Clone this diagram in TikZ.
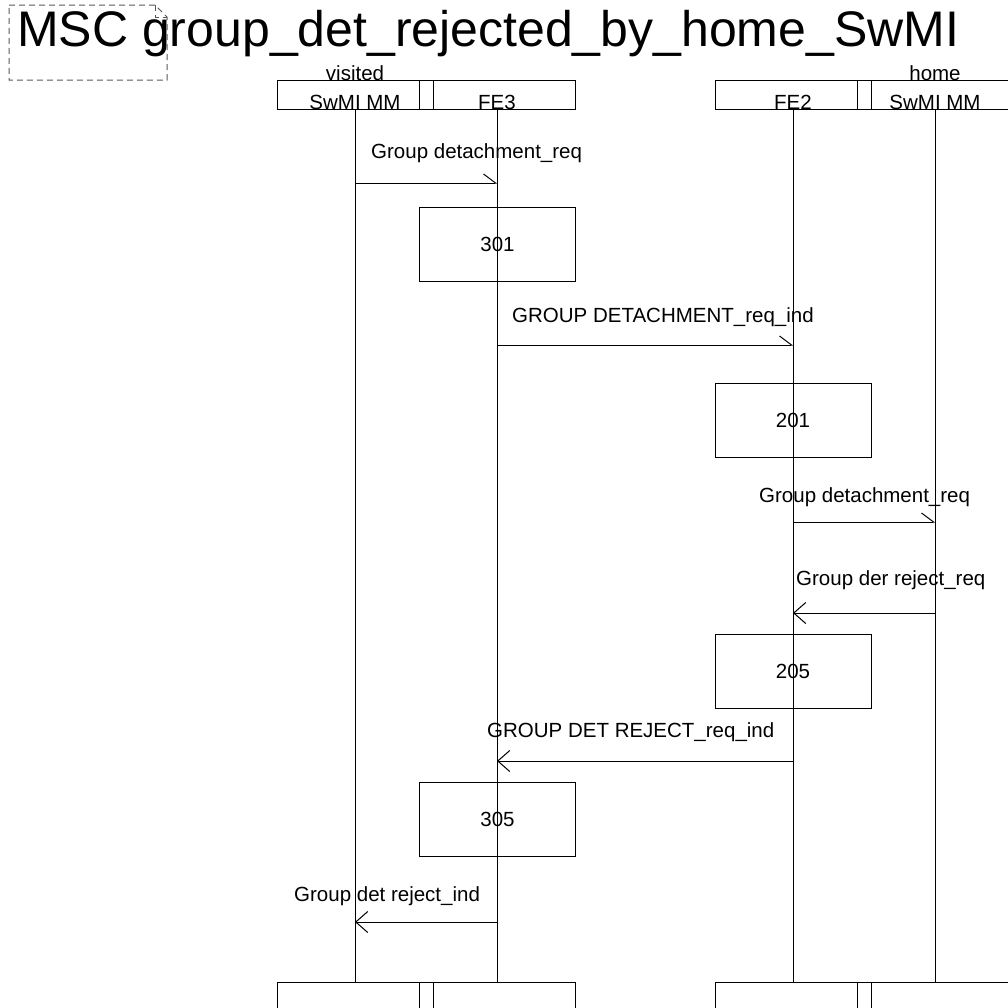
\documentclass[tikz,border=0pt]{standalone}
\usepackage{fontspec}
\setmainfont{Liberation Sans}
\usetikzlibrary{arrows.meta}
\tikzset{
  ln/.style={line width=1pt, draw=black},
  headbox/.style={ln, rectangle, minimum width=156pt, minimum height=29pt, inner sep=0pt},
  actbox/.style={ln, rectangle, minimum width=156pt, minimum height=74pt, inner sep=0pt, font=\fontsize{20.5}{24}\selectfont},
  lbl/.style={inner sep=0pt, font=\fontsize{20.5}{24}\selectfont},
  msgR/.style={ln, -{Straight Barb[harpoon, length=12pt, width=18pt, line width=1pt]}},
  msgL/.style={ln, -{Straight Barb[length=12pt, width=21pt, line width=1pt]}},
  framebox/.style={line width=1pt, draw=black!65, dash pattern=on 6pt off 4pt},
}
\begin{document}
\begin{tikzpicture}[x=1pt, y=-1pt]
\useasboundingbox (0,0) rectangle (1008,1007);
% title and frame
\node[inner sep=0pt, anchor=base west, font=\fontsize{50}{60}\selectfont] (title) at (17,46) {MSC group\_det\_rejected\_by\_home\_SwMI};
\draw[framebox] (9,5) -- (155,5) -- (167,17) -- (167,80) -- (9,80) -- cycle;
\draw[framebox] (155,5) -- (155,17) -- (167,17);
% instance heads
\node[headbox] (h1) at (355,94.5) {};
\node[headbox] (h2) at (497,94.5) {};
\node[headbox] (h3) at (793,94.5) {};
\node[headbox] (h4) at (935,94.5) {};
\node[lbl, anchor=base] (t1) at (355,109) {SwMI MM};
\node[lbl, anchor=base] (t2) at (497,109) {FE3};
\node[lbl, anchor=base] (t3) at (793,109) {FE2};
\node[lbl, anchor=base] (t4) at (935,109) {SwMI MM};
\node[lbl, anchor=base] (v1) at (355,80) {visited};
\node[lbl, anchor=base] (v4) at (935,80) {home};
% instance ends
\node[headbox] (f1) at (355,996.5) {};
\node[headbox] (f2) at (497,996.5) {};
\node[headbox] (f3) at (793,996.5) {};
\node[headbox] (f4) at (935,996.5) {};
% lifelines
\draw[ln] (h1.south) -- (f1.north);
\draw[ln] (h2.south) -- (f2.north);
\draw[ln] (h3.south) -- (f3.north);
\draw[ln] (h4.south) -- (f4.north);
% message end points on lifelines
\coordinate (m1a) at (355,183); \coordinate (m1b) at (497,183);
\coordinate (m3a) at (497,345); \coordinate (m3b) at (793,345);
\coordinate (m5a) at (793,522); \coordinate (m5b) at (935,522);
\coordinate (m6a) at (935,613); \coordinate (m6b) at (793,613);
\coordinate (m8a) at (793,761); \coordinate (m8b) at (497,761);
\coordinate (m10a) at (497,922); \coordinate (m10b) at (355,922);
% actions
\node[actbox] (a301) at (497.5,244) {301};
\node[actbox] (a201) at (793,420) {201};
\node[actbox] (a205) at (793,671) {205};
\node[actbox] (a305) at (497.5,819) {305};
% messages
\draw[msgR] (m1a) -- (m1b);
\node[lbl, anchor=base west] (l1) at (371,158) {Group detachment\_req};
\draw[msgR] (m3a) -- (m3b);
\node[lbl, anchor=base west] (l3) at (512,322) {GROUP DETACHMENT\_req\_ind};
\draw[msgR] (m5a) -- (m5b);
\node[lbl, anchor=base west] (l5) at (759,502) {Group detachment\_req};
\draw[msgL] (m6a) -- (m6b);
\node[lbl, anchor=base west] (l6) at (796,585) {Group der reject\_req};
\draw[msgL] (m8a) -- (m8b);
\node[lbl, anchor=base west] (l8) at (487,737) {GROUP DET REJECT\_req\_ind};
\draw[msgL] (m10a) -- (m10b);
\node[lbl, anchor=base west] (l10) at (294,901) {Group det reject\_ind};
\end{tikzpicture}
\end{document}
